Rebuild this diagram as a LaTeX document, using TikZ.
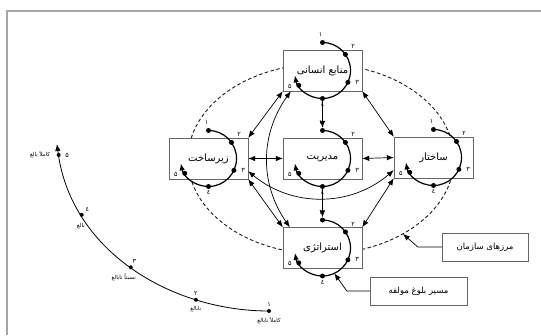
\documentclass[tikz,border=0pt]{standalone}
\usepackage{fontspec}
\newfontfamily\arabicfont[Script=Arabic]{DejaVu Sans}
\TeXXeTstate=1
\newcommand{\fa}[1]{{\arabicfont\beginR #1\endR}}
\usetikzlibrary{arrows.meta,calc,positioning}

\begin{document}
\begin{tikzpicture}[x=1pt,y=1pt,
    >={Latex[length=7pt,width=5.5pt]},
    box/.style={draw=gray!80!black,fill=white,minimum width=79pt,minimum height=41pt,inner sep=1pt,font=\fontsize{10}{12}\selectfont},
    tagbox/.style={draw=gray!80!black,fill=white,minimum height=28pt,inner sep=2pt,font=\fontsize{8.5}{10}\selectfont},
    link/.style={<->,line width=0.7pt},
    loopline/.style={->,line width=1.2pt},
    dot/.style={circle,fill=black,inner sep=0pt,minimum size=5pt},
    smalldot/.style={circle,fill=black,inner sep=0pt,minimum size=4pt},
    num/.style={font=\arabicfont\fontsize{6.5}{7}\selectfont,inner sep=1pt},
    scaletext/.style={font=\fontsize{5.5}{6}\selectfont,inner sep=1pt}]
    \useasboundingbox (0,0) rectangle (541,-335);

    % Frame
    \draw[gray!70,line width=1.6pt] (7,-335) -- (7,-11) -- (541,-11);

    % Organization boundary
    \coordinate (org) at (321,-159);
    \draw[dash pattern=on 3.5pt off 2.5pt,line width=0.9pt,gray!20!black] (org) ellipse [x radius=133pt,y radius=95pt];

    % Boxes
    \node[box] (hr) at (322.5,-70.5) {\fa{منابع انسانی}};
    \node[box] (mg) at (322.5,-158.5) {\fa{مدیریت}};
    \node[box] (inf) at (208.5,-158.5) {\fa{زیرساخت}};
    \node[box] (st) at (433.5,-157.5) {\fa{ساختار}};
    \node[box] (sg) at (322.5,-248) {\fa{استراتژی}};

    % Links between boxes
    \draw[link] (inf.north east) -- (hr.south west);
    \draw[link] ($(hr.south west)+(8,0)$) to[bend right=35] ($(sg.north west)+(7,0)$);
    \draw[link] (inf.east) -- (mg.west);
    \draw[link] (mg.east) -- (st.west);
    \draw[link] (inf.south east) -- (sg.north west);
    \draw[link] (hr.south east) -- (st.north west);
    \draw[link] (sg.north east) -- (st.south west);
    \draw[link] ($(inf.south east)+(0,8)$) to[bend right=40] ($(st.south west)+(0,8)$);

    % Maturity loops
    \foreach \b in {hr,mg,inf,st,sg} {
        \draw[loopline] ($(\b)+(90:28pt)$) arc[start angle=90,end angle=-170,radius=28pt];
        \foreach \i/\a in {1/90,2/35,3/-25,4/-90,5/-148}
            \node[dot] (\b-\i) at ($(\b)+(\a:28pt)$) {};
        \node[num,above=2pt of \b-1,xshift=-2pt] (\b-n1) {۱};
        \node[num] (\b-n2) at ($(\b.north east)+(-9,3)$) {۲};
        \node[num] (\b-n3) at ($(\b.south east)+(-5,9)$) {۳};
        \node[num,below=0pt of \b-4] (\b-n4) {٤};
        \node[num] (\b-n5) at ($(\b.south west)+(7,5)$) {۵};
    }
    \draw[->,line width=0.7pt] (hr-4) -- (mg-1);
    \draw[->,line width=0.7pt] (mg-4) -- (sg-1);

    % Callouts
    \node[tagbox,minimum width=86pt] (bnd) at (485,-247) {\fa{مرزهای سازمان}};
    \node[tagbox,minimum width=97pt] (path) at (418.5,-291) {\fa{مسیر بلوغ مولفه}};
    \coordinate (bnd-tip) at ($(org)+(-52:133pt and 95pt)$);
    \coordinate (path-tip) at ($(sg)+(-65:28pt)$);
    \draw[->,line width=0.7pt] (bnd.west) -- ++(-24,0) -- (bnd-tip);
    \draw[->,line width=0.7pt] (path.west) -- ++(-23,0) -- (path-tip);

    % Maturity scale
    \draw[line width=0.8pt,->] (269,-311) .. controls (170,-311) and (70,-250) .. (57,-144)
        node[smalldot,pos=0] (m1) {} node[smalldot,pos=0.25] (m2) {} node[smalldot,pos=0.5] (m3) {}
        node[smalldot,pos=0.75] (m4) {} node[smalldot,pos=0.965] (m5) {};
    \node[num,above=1pt of m1] (m1-n) {۱};
    \node[scaletext,below=3pt of m1] (m1-t) {\fa{کاملاً نابالغ}};
    \node[num,above=1pt of m2] (m2-n) {۲};
    \node[scaletext,below=3pt of m2] (m2-t) {\fa{نابالغ}};
    \node[num,above right=1pt and -1pt of m3] (m3-n) {۳};
    \node[scaletext,below left=4pt and -8pt of m3] (m3-t) {\fa{نسبتاً نابالغ}};
    \node[num,above right=0pt and 1pt of m4] (m4-n) {٤};
    \node[scaletext,below left=6pt and -6pt of m4] (m4-t) {\fa{بالغ}};
    \node[num,right=3pt of m5] (m5-n) {۵};
    \node[scaletext,left=5pt of m5] (m5-t) {\fa{کاملاً بالغ}};
\end{tikzpicture}
\end{document}
